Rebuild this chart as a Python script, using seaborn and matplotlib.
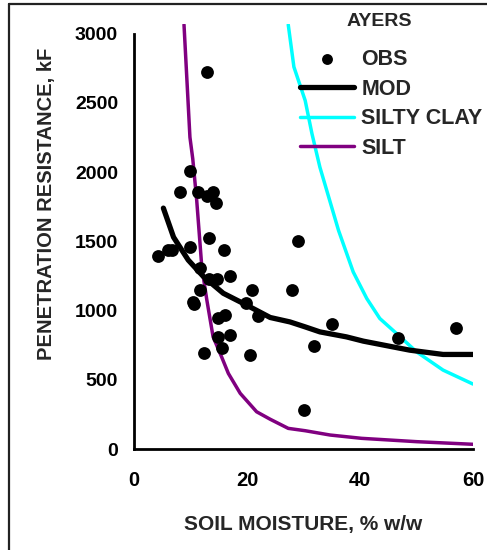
import matplotlib
matplotlib.use("Agg")
import matplotlib.pyplot as plt
from matplotlib.lines import Line2D
import seaborn as sns
import pandas as pd

# Observed points
obs_x = [9.9, 8.1, 11.4, 12.9, 13.9, 14.5, 13.2, 16.0, 9.9, 4.3, 6.0, 6.8, 11.7, 13.3,
         14.7, 17.0, 11.7, 10.4, 10.6, 20.9, 28.0, 29.1, 19.9, 22.0, 16.1, 14.9, 17.0,
         14.9, 15.6, 12.4, 20.5, 31.9, 30.1, 35.1, 46.8, 57.0, 12.9]
obs_y = [2010, 1855, 1855, 1830, 1855, 1780, 1525, 1440, 1460, 1395, 1440, 1440, 1310, 1230,
         1230, 1250, 1150, 1060, 1045, 1150, 1150, 1500, 1055, 960, 970, 945, 820,
         810, 730, 695, 680, 745, 285, 905, 805, 875, 2720]

# Model curve
mod_x = [5.2, 7.0, 9.6, 12.3, 15.8, 19.9, 24.1, 27.6, 30.3, 32.9, 37.6, 40.6, 48.8, 54.7, 60]
mod_y = [1740, 1530, 1365, 1245, 1125, 1040, 950, 918, 882, 846, 810, 779, 714, 683, 683]

# Silty clay curve
sc_x = [27.3, 28.3, 30.3, 31.5, 32.9, 36.2, 38.8, 41.2, 43.5, 46.8, 50.0, 54.7, 60]
sc_y = [3065, 2760, 2517, 2277, 2036, 1579, 1279, 1087, 943, 822, 702, 570, 469]

# Silt curve
silt_x = [8.85, 9.9, 10.4, 11.1, 12.0, 12.9, 14.0, 15.5, 16.7, 18.8, 21.7, 24.1, 27.3,
          30.3, 34.7, 40.3, 50.0, 60]
silt_y = [3065, 2252, 2096, 1796, 1315, 1074, 810, 666, 546, 402, 269, 215, 149,
          132, 101, 77, 53, 34]

x_ticks = [0, 20, 40, 60]
y_ticks = [0, 500, 1000, 1500, 2000, 2500, 3000]

sns.set_style("white")
plt.rcParams['font.family'] = ['Liberation Sans', 'DejaVu Sans']
plt.rcParams['font.weight'] = 'bold'

fig = plt.figure(figsize=(4.87, 5.5), dpi=100)
ax = fig.add_axes([134 / 487, 1 - 449 / 550, 339 / 487, 425 / 550])

obs = pd.DataFrame({"x": obs_x, "y": obs_y})
mod = pd.DataFrame({"x": mod_x, "y": mod_y})
sc = pd.DataFrame({"x": sc_x, "y": sc_y})
silt = pd.DataFrame({"x": silt_x, "y": silt_y})

sns.lineplot(data=silt, x="x", y="y", ax=ax, color="#800080", lw=2.5, label="SILT",
             estimator=None, zorder=2)
sns.lineplot(data=sc, x="x", y="y", ax=ax, color="#00FFFF", lw=2.5, label="SILTY CLAY",
             estimator=None, zorder=2)
sns.lineplot(data=mod, x="x", y="y", ax=ax, color="black", lw=3.8, label="MOD",
             estimator=None, zorder=3)
sns.scatterplot(data=obs, x="x", y="y", ax=ax, color="black", s=85, edgecolor="black",
                linewidth=0, label="OBS", zorder=4)

ax.set_xlim(0, 60)
ax.set_ylim(0, 3070)
ax.set_xticks(x_ticks)
ax.set_yticks(y_ticks)
ax.set_xticklabels([str(t) for t in x_ticks], fontsize=14.5, fontweight="bold")
ax.set_yticklabels([str(t) for t in y_ticks], fontsize=14, fontweight="bold")

for s in ["top", "right"]:
    ax.spines[s].set_visible(False)
for s in ["left", "bottom"]:
    ax.spines[s].set_linewidth(2.0)
    ax.spines[s].set_color("black")
ax.spines["left"].set_bounds(0, 3000)
ax.tick_params(axis="both", direction="inout", length=7, width=1.8, colors="black")
ax.tick_params(axis="y", pad=8)
ax.tick_params(axis="x", pad=12)

ax.set_xlabel("SOIL MOISTURE, % w/w", fontsize=15, fontweight="bold", labelpad=18)
ax.set_ylabel("PENETRATION RESISTANCE, kF", fontsize=14.5, fontweight="bold")
ax.yaxis.set_label_coords(-0.23, 0.576)

handles, labels = ax.get_legend_handles_labels()
order = ["OBS", "MOD", "SILTY CLAY", "SILT"]
hmap = dict(zip(labels, handles))
leg = ax.legend([hmap[k] for k in order], order, frameon=False,
                loc="upper left", bbox_to_anchor=(300 / 487, 1 - 49 / 550),
                bbox_transform=fig.transFigure, borderpad=0, borderaxespad=0,
                handlelength=2.5, handletextpad=0.35, labelspacing=0.40,
                markerscale=0.85,
                prop={"size": 15.5, "weight": "bold"})
fig.text(379 / 487, 1 - 21 / 550, "AYERS", ha="center", va="center",
         fontsize=14, fontweight="bold")

# outer frame (left and top edges)
fig.add_artist(Line2D([9 / 487, 9 / 487], [0, 1 - 4 / 550], transform=fig.transFigure,
                      color="#222222", lw=1.6))
fig.add_artist(Line2D([9 / 487, 1], [1 - 4 / 550, 1 - 4 / 550], transform=fig.transFigure,
                      color="#222222", lw=1.6))

fig.savefig("out.png", dpi=100)
